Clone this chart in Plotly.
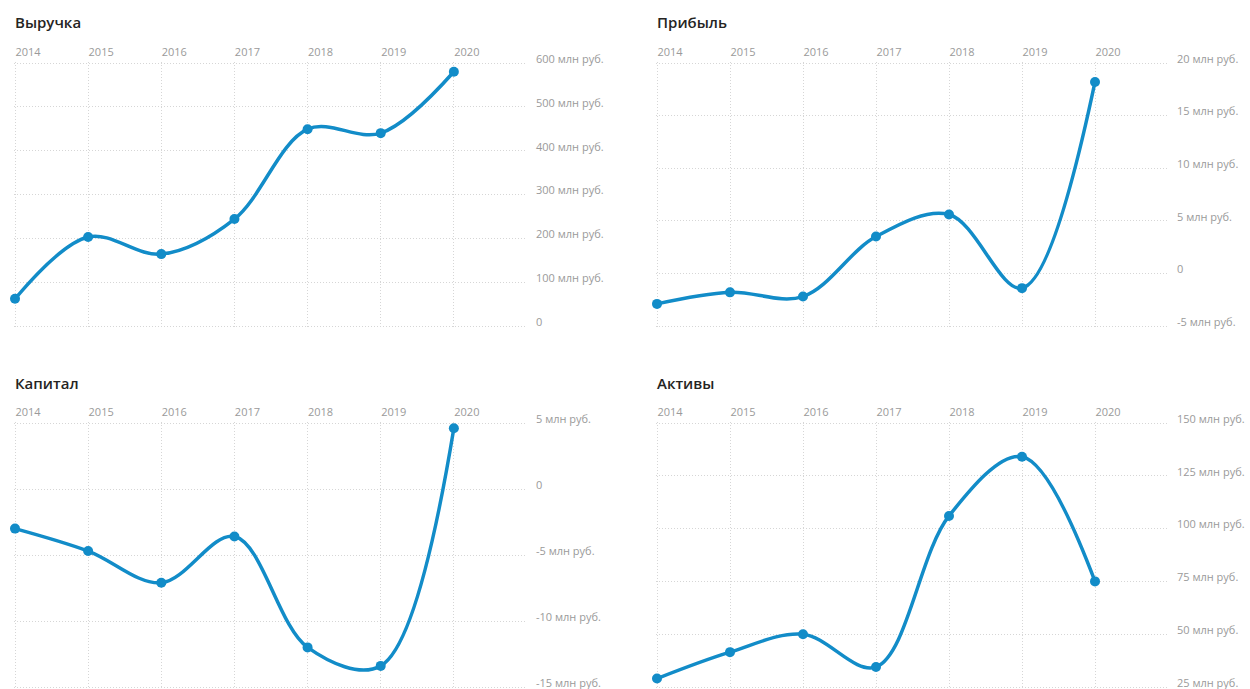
import plotly.graph_objects as go

W, H = 1250, 689

years = [2014, 2015, 2016, 2017, 2018, 2019, 2020]

revenue = [62, 203, 164, 244, 449, 440, 580]          # Выручка, млн руб.
profit = [-2.9, -1.8, -2.2, 3.5, 5.6, -1.4, 18.2]     # Прибыль
capital = [-3.0, -4.7, -7.1, -3.6, -12.0, -13.4, 4.6]  # Капитал
assets = [29, 41.5, 50, 34.5, 106, 134, 75]           # Активы

titles = ["Выручка", "Прибыль", "Капитал", "Активы"]
series = [revenue, profit, capital, assets]

rev_ticks = [0, 100, 200, 300, 400, 500, 600]
prof_ticks = [-5, 0, 5, 10, 15, 20]
cap_ticks = [-15, -10, -5, 0, 5]
ass_ticks = [25, 50, 75, 100, 125, 150]
tick_sets = [rev_ticks, prof_ticks, cap_ticks, ass_ticks]

LINE = "#128CC8"
GRID = "#d6d6d6"
TICKC = "#9a9a9a"

# panel geometry in pixels (left, right, top, bottom)
panels = [
    (15, 527, 63, 326),
    (657, 1168, 63, 326),
    (15, 527, 423, 687),
    (657, 1168, 423, 687),
]
title_pos = [(13, 22), (655, 22), (13, 383), (655, 383)]
PAD = 1.5  # px of extra room so edge gridlines are drawn


def lab(v):
    return "0" if v == 0 else f"{v} млн руб."


fig = go.Figure()
layout = dict(
    template="none",
    width=W, height=H, autosize=False,
    margin=dict(l=0, r=0, t=0, b=0, pad=0, autoexpand=False),
    paper_bgcolor="white", plot_bgcolor="white",
    showlegend=False,
    font=dict(family="Open Sans, Noto Sans, sans-serif", color=TICKC, size=11),
    annotations=[],
)

for i, (vals, ticks) in enumerate(zip(series, tick_sets)):
    n = "" if i == 0 else str(i + 1)
    fig.add_trace(go.Scatter(
        x=years, y=vals, mode="lines+markers",
        line=dict(color=LINE, width=3.5, shape="spline", smoothing=1.0),
        marker=dict(color=LINE, size=10, line=dict(width=0)),
        cliponaxis=False,
        xaxis="x" + n, yaxis="y" + n,
    ))
    l, r, t, b = panels[i]
    xpx = (r - l) / 7.0
    xr = [2014 - PAD / xpx, 2021]
    xd = [(l - PAD) / W, r / W]
    ypx = (b - t) / float(ticks[-1] - ticks[0])
    yr = [ticks[0] - PAD / ypx, ticks[-1] + PAD / ypx]
    yd = [1 - (b + PAD) / H, 1 - (t - PAD) / H]
    layout["xaxis" + n] = dict(
        domain=xd, range=xr,
        anchor="y" + n, side="top", automargin=False,
        tickvals=years, ticktext=[str(y) for y in years],
        ticklabelshift=13, ticklabelstandoff=2,
        showgrid=True, gridcolor=GRID, griddash="1px,2px", gridwidth=1,
        zeroline=False, showline=False, ticks="",
        tickfont=dict(size=11, color=TICKC),
    )
    layout["yaxis" + n] = dict(
        domain=yd, range=yr,
        anchor="x" + n, side="right", automargin=False,
        tickvals=ticks, ticktext=[lab(v) for v in ticks],
        ticklabelstandoff=8, ticklabelshift=-4,
        ticklabeloverflow="allow",
        showgrid=True, gridcolor=GRID, griddash="1px,2px", gridwidth=1,
        zeroline=False, showline=False, ticks="",
        tickfont=dict(size=11, color=TICKC),
    )
    tx, ty = title_pos[i]
    layout["annotations"].append(dict(
        text=titles[i], xref="paper", yref="paper",
        x=tx / W, y=1 - ty / H, xanchor="left", yanchor="middle",
        showarrow=False,
        font=dict(family="Open Sans, Noto Sans, sans-serif", size=15,
                  color="#252423", weight=600),
    ))

fig.update_layout(**layout)
fig.write_html("out.html")
